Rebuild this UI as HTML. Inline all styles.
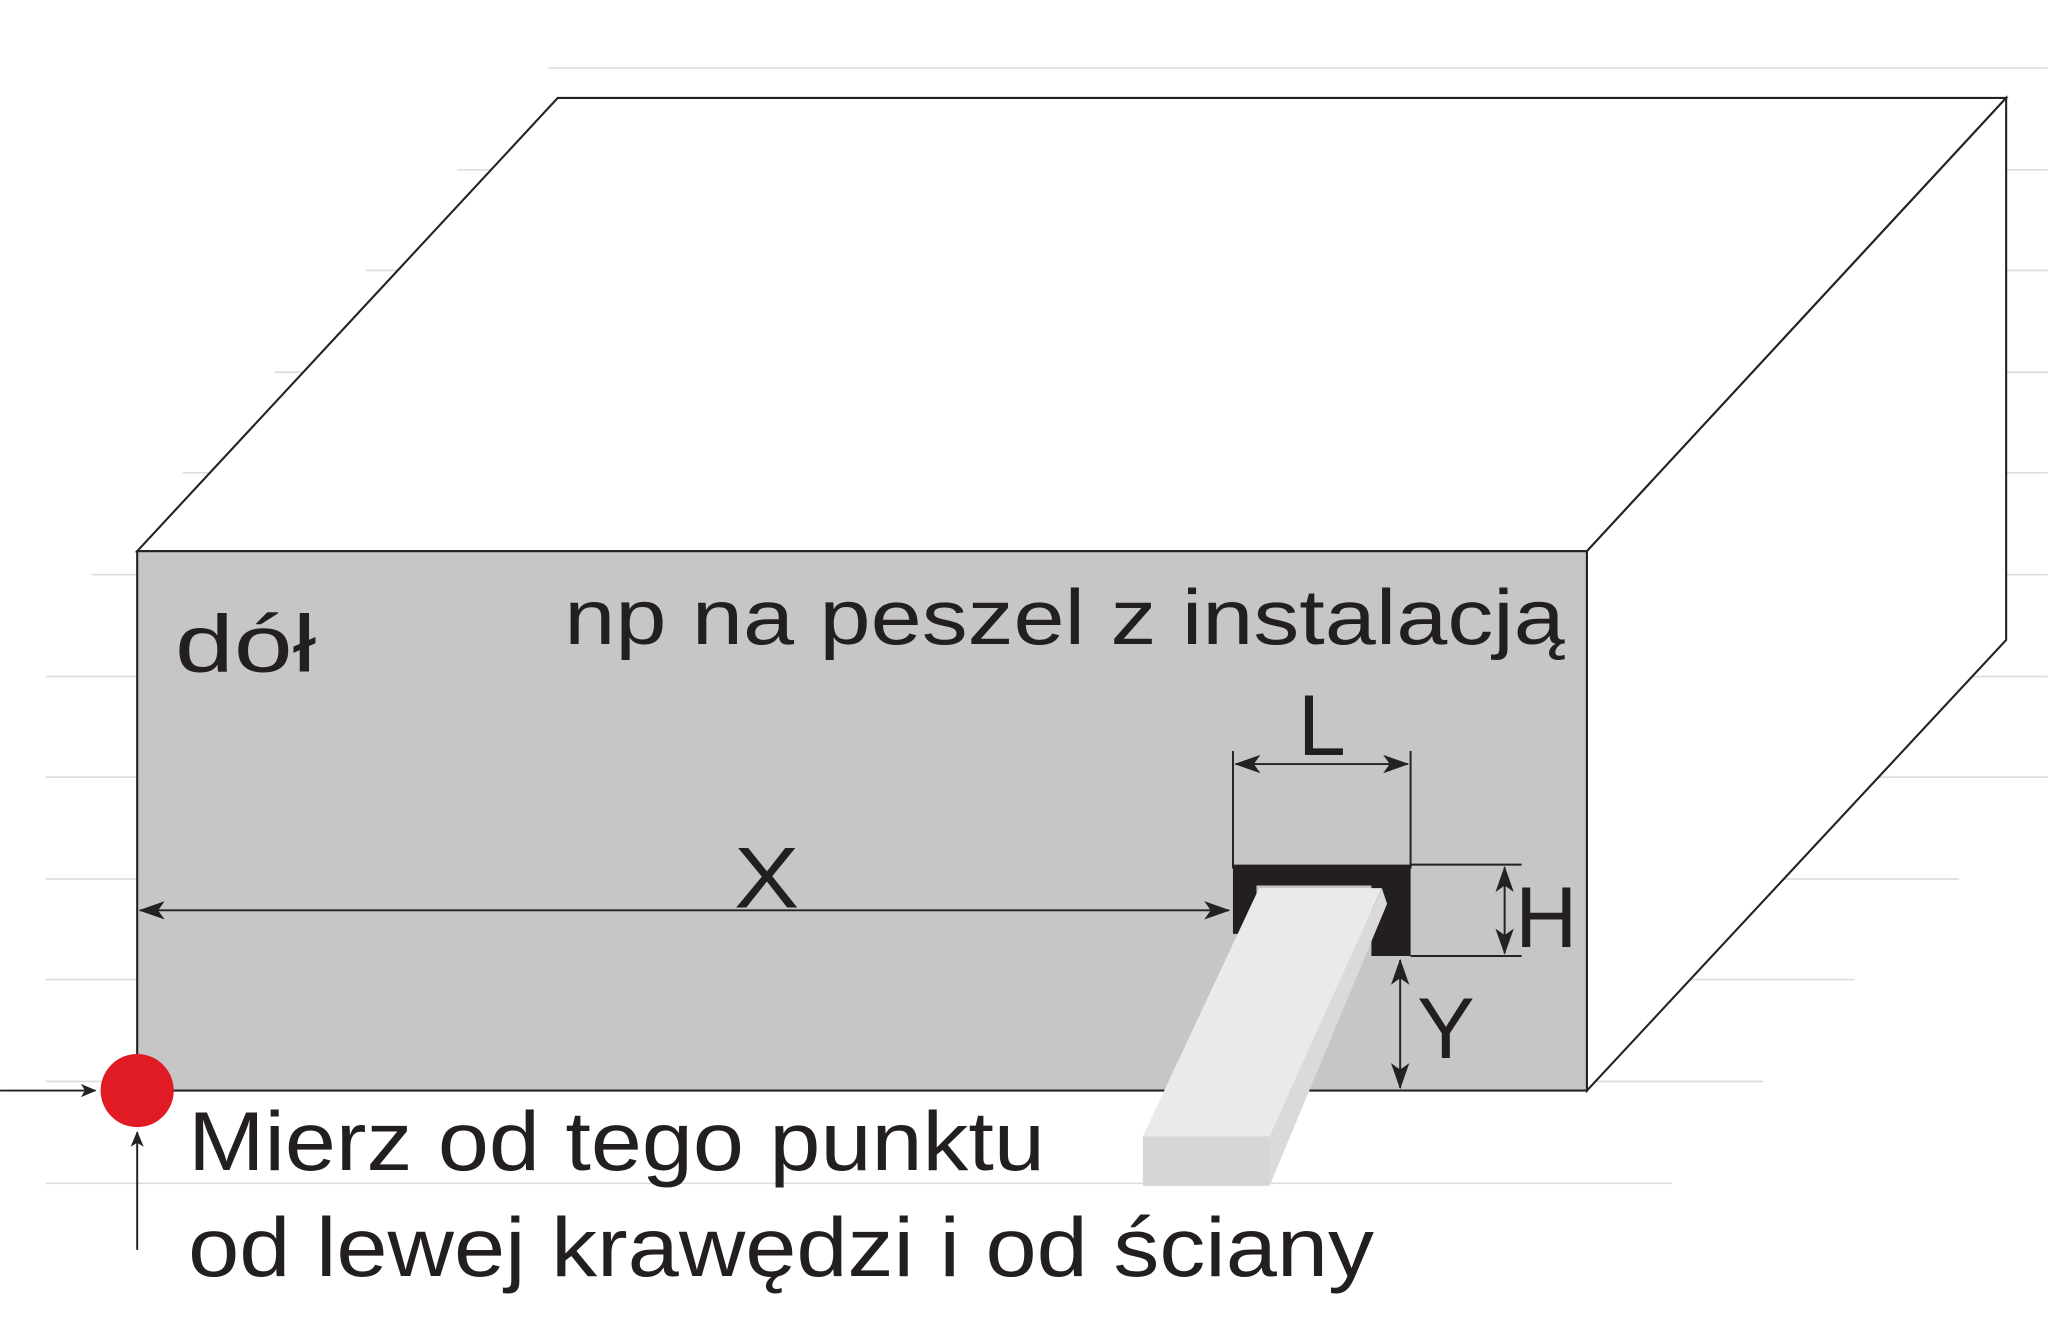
<!DOCTYPE html>
<html><head><meta charset="utf-8"><style>html,body{margin:0;padding:0;background:#fff}svg{display:block}</style></head>
<body>
<svg width="2048" height="1325" viewBox="0 0 1568 1014.5" xmlns="http://www.w3.org/2000/svg" font-family="Liberation Sans, sans-serif">
<defs>
<marker id="a" markerWidth="12" markerHeight="12" refX="11" refY="6" orient="auto-start-reverse" markerUnits="userSpaceOnUse" viewBox="0 0 12 12"><path d="M0,1 L12,6 L0,11 L3,6z" fill="#222"/></marker>
<marker id="b" markerWidth="20" markerHeight="16" refX="19" refY="8" orient="auto-start-reverse" markerUnits="userSpaceOnUse" viewBox="0 0 20 16"><path d="M0,1 L20,8 L0,15 L5,8z" fill="#222"/></marker>
</defs>
<g stroke="#ddd" stroke-width="1.3">
<line x1="420" y1="52" x2="1568" y2="52"/>
<line x1="350" y1="130" x2="1568" y2="130"/>
<line x1="280" y1="207" x2="1568" y2="207"/>
<line x1="210" y1="285" x2="1568" y2="285"/>
<line x1="140" y1="362" x2="1568" y2="362"/>
<line x1="70" y1="440" x2="1568" y2="440"/>
<line x1="35" y1="518" x2="1568" y2="518"/>
<line x1="35" y1="595" x2="1568" y2="595"/>
<line x1="35" y1="673" x2="1500" y2="673"/>
<line x1="35" y1="750" x2="1420" y2="750"/>
<line x1="35" y1="828" x2="1350" y2="828"/>
<line x1="35" y1="906" x2="1280" y2="906"/>
</g>
<polygon points="105,422 427,75 1536,75 1215,422" fill="#fff" stroke="#222" stroke-width="1.6"/>
<polygon points="1215,422 1536,75 1536,490 1215,835" fill="#fff" stroke="#222" stroke-width="1.6"/>
<rect x="105" y="422" width="1110" height="413" fill="#c5c6c5" stroke="#222" stroke-width="1.6"/>
<text x="134" y="514" font-size="62" fill="#231f20" textLength="108" lengthAdjust="spacingAndGlyphs">dół</text>
<text x="432" y="493" font-size="60" fill="#231f20" textLength="766" lengthAdjust="spacingAndGlyphs">np na peszel z instalacją</text>
<line x1="107" y1="697" x2="941" y2="697" stroke="#222" stroke-width="1.5" marker-start="url(#b)" marker-end="url(#b)"/>
<text x="587" y="695" font-size="66" fill="#231f20" text-anchor="middle" textLength="50" lengthAdjust="spacingAndGlyphs">X</text>
<line x1="944" y1="575" x2="944" y2="665" stroke="#222" stroke-width="1.5"/>
<line x1="1080" y1="575" x2="1080" y2="665" stroke="#222" stroke-width="1.5"/>
<line x1="946" y1="585" x2="1078" y2="585" stroke="#222" stroke-width="1.5" marker-start="url(#b)" marker-end="url(#b)"/>
<text x="1012" y="578" font-size="66" fill="#231f20" text-anchor="middle">L</text>
<line x1="1080" y1="662" x2="1165" y2="662" stroke="#222" stroke-width="1.5"/>
<line x1="1080" y1="732" x2="1165" y2="732" stroke="#222" stroke-width="1.5"/>
<line x1="1152" y1="664" x2="1152" y2="730" stroke="#222" stroke-width="1.5" marker-start="url(#b)" marker-end="url(#b)"/>
<text x="1160" y="725" font-size="66" fill="#231f20">H</text>
<line x1="1072" y1="735" x2="1072" y2="833" stroke="#222" stroke-width="1.5" marker-start="url(#b)" marker-end="url(#b)"/>
<text x="1085" y="810" font-size="66" fill="#231f20">Y</text>
<path d="M944,662 H1080 V732 H1050 V678 H962 V715 H944 Z" fill="#231f20"/>
<polygon points="964,680 1058,680 972,870 875,870" fill="#e9eae9"/>
<polygon points="1058,680 1062,692 972,908 972,870" fill="#d9dad9"/>
<rect x="875" y="870" width="97" height="38" fill="#d6d6d6"/>
<line x1="0" y1="835" x2="73" y2="835" stroke="#222" stroke-width="1.5" marker-end="url(#a)"/>
<line x1="105" y1="957" x2="105" y2="867" stroke="#222" stroke-width="1.5" marker-end="url(#a)"/>
<circle cx="105" cy="835" r="28" fill="#e01b24"/>
<text x="144" y="896" font-size="64" fill="#231f20" textLength="656" lengthAdjust="spacingAndGlyphs">Mierz od tego punktu</text>
<text x="144" y="977" font-size="64" fill="#231f20" textLength="908" lengthAdjust="spacingAndGlyphs">od lewej krawędzi i od ściany</text>
</svg>
</body></html>
